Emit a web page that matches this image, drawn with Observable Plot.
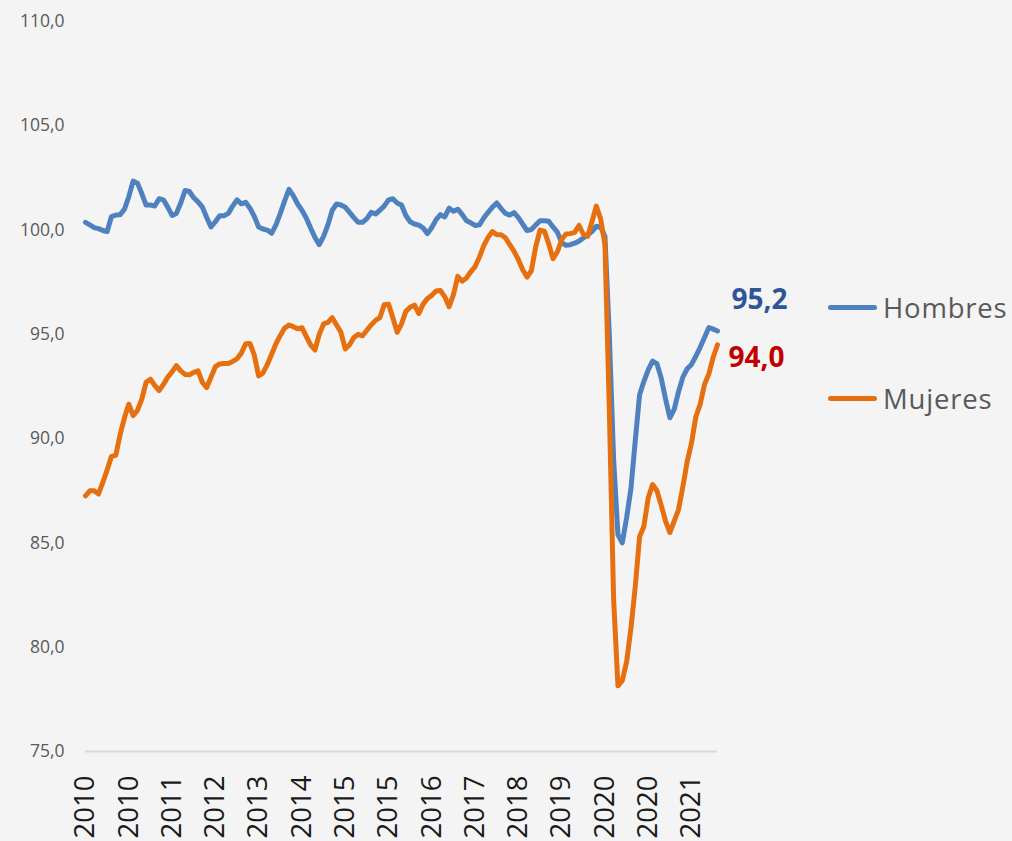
<!DOCTYPE html>
<html>
<head>
<meta charset="utf-8">
<script src="https://cdn.jsdelivr.net/npm/d3@7"></script>
<script src="https://cdn.jsdelivr.net/npm/@observablehq/plot@0.6"></script>
<style>
  html, body { margin: 0; padding: 0; background: #f4f4f4; }
  #wrap { position: relative; width: 1012px; height: 841px; overflow: hidden; background: #f4f4f4; font-family: "Open Sans", sans-serif; }
  #chart svg { display: block; }
  .leg { position: absolute; display: flex; align-items: center; color: #595959; font-size: 27.5px; letter-spacing: 0.8px; }
  .leg .sw { width: 49px; height: 5px; border-radius: 3px; margin-right: 6px; }
</style>
</head>
<body>
<div id="wrap">
  <div id="chart"></div>
</div>
<script>
// Monthly series, Jan 2010 – Mar 2022 (index 0 = Jan 2010)
const hombres = [
  100.37,100.25,100.12,100.07,99.98,99.93,100.65,100.72,100.74,101.0,
  101.6,102.35,102.25,101.75,101.2,101.2,101.15,101.5,101.45,101.1,
  100.7,100.8,101.3,101.9,101.85,101.55,101.35,101.1,100.6,100.15,
  100.4,100.69,100.69,100.8,101.15,101.45,101.26,101.33,101.05,100.65,
  100.15,100.05,100.0,99.85,100.25,100.8,101.4,101.95,101.65,101.25,
  100.95,100.58,100.1,99.65,99.3,99.7,100.25,100.95,101.25,101.2,
  101.1,100.85,100.6,100.37,100.37,100.55,100.85,100.77,100.95,101.15,
  101.45,101.5,101.3,101.2,100.7,100.4,100.29,100.24,100.1,99.83,
  100.12,100.5,100.74,100.63,101.05,100.9,101.0,100.75,100.45,100.35,
  100.22,100.25,100.58,100.85,101.1,101.3,101.03,100.8,100.72,100.84,
  100.6,100.28,99.98,100.03,100.24,100.45,100.45,100.42,100.15,99.9,
  99.4,99.27,99.3,99.37,99.47,99.62,99.77,99.93,100.18,100.15,
  99.7,95.0,89.0,85.4,85.0,86.2,87.6,89.9,92.1,92.75,
  93.3,93.72,93.6,92.9,91.9,91.0,91.4,92.25,92.95,93.35,
  93.56,93.95,94.38,94.85,95.33,95.25,95.16
];
const mujeres = [
  87.26,87.5,87.5,87.35,87.9,88.5,89.15,89.2,90.2,91.0,
  91.65,91.1,91.35,91.9,92.7,92.85,92.55,92.3,92.6,92.95,
  93.2,93.5,93.25,93.08,93.06,93.18,93.25,92.7,92.45,92.95,
  93.45,93.58,93.6,93.6,93.7,93.83,94.1,94.55,94.56,94.0,
  93.0,93.15,93.55,94.05,94.55,94.95,95.3,95.45,95.37,95.27,
  95.32,94.9,94.5,94.25,95.0,95.5,95.57,95.8,95.45,95.1,
  94.3,94.5,94.85,95.0,94.93,95.2,95.45,95.67,95.8,96.42,
  96.45,95.8,95.1,95.5,96.1,96.3,96.4,96.0,96.45,96.72,
  96.87,97.08,97.1,96.8,96.33,96.9,97.78,97.55,97.7,98.0,
  98.25,98.7,99.25,99.65,99.93,99.78,99.78,99.63,99.3,98.98,
  98.58,98.1,97.75,98.05,99.2,100.0,99.95,99.35,98.63,98.95,
  99.55,99.81,99.83,99.89,100.22,99.8,99.7,100.4,101.15,100.55,
  99.3,91.5,82.3,78.15,78.4,79.3,80.9,82.9,85.3,85.8,
  87.17,87.8,87.5,86.8,86.05,85.5,86.05,86.6,87.7,88.9,
  89.8,91.05,91.65,92.6,93.1,93.9,94.5
];
const seriesNames = ["Hombres", "Mujeres"];
const seriesColors = ["#4E81BD", "#E6700F"];
const endLabelValues = [95.2, 94.0];
const endLabelColors = ["#2F5597", "#C00000"];
const xTickIndex = [0,10,20,30,40,50,60,70,80,90,100,110,120,130,140];
const xTickLabels = ["2010","2010","2011","2012","2013","2014","2015","2015","2016","2017","2018","2019","2020","2020","2021"];
const yTicks = [75,80,85,90,95,100,105,110];

const fmt = v => v.toFixed(1).replace(".", ",");
const rows = [];
hombres.forEach((v, i) => rows.push({i, v, s: seriesNames[0]}));
mujeres.forEach((v, i) => rows.push({i, v, s: seriesNames[1]}));
const last = hombres.length - 1;

const chart = Plot.plot({
  width: 1012,
  height: 841,
  marginLeft: 85,
  marginRight: 295,
  marginTop: 21,
  marginBottom: 90,
  style: {background: "transparent", fontFamily: "'Open Sans', sans-serif", overflow: "visible"},
  x: {domain: [0, last]},
  y: {domain: [75, 110]},
  color: {domain: seriesNames, range: seriesColors},
  marks: [
    Plot.ruleY([75], {stroke: "#d9d9d9", strokeWidth: 2}),
    Plot.axisY({ticks: yTicks, tickSize: 0, tickPadding: 21, fontSize: 17.5, fill: "#595959", tickFormat: fmt, label: null, style: {letterSpacing: "0.8px"}}),
    Plot.axisX({ticks: xTickIndex, tickSize: 0, tickPadding: 24, tickRotate: -90, fontSize: 27.5, fill: "#1a1a1a", tickFormat: d => xTickLabels[xTickIndex.indexOf(d)], label: null, style: {letterSpacing: "2px"}}),
    Plot.line(rows, {x: "i", y: "v", z: "s", stroke: "s", strokeWidth: 5, strokeLinejoin: "round", strokeLinecap: "round"}),
    Plot.text([0], {x: () => last, y: () => hombres[last], text: () => fmt(endLabelValues[0]), dx: 14, dy: -31, textAnchor: "start", fontWeight: "bold", fontSize: 28, fill: endLabelColors[0]}),
    Plot.text([0], {x: () => last, y: () => mujeres[last], text: () => fmt(endLabelValues[1]), dx: 11, dy: 13, textAnchor: "start", fontWeight: "bold", fontSize: 28, fill: endLabelColors[1]})
  ]
});
document.getElementById("chart").appendChild(chart);

// legend
const wrap = document.getElementById("wrap");
const legendY = [307.7, 398];
seriesNames.forEach((name, k) => {
  const d = document.createElement("div");
  d.className = "leg";
  d.style.left = "828px";
  d.style.top = (legendY[k] - 20) + "px";
  d.style.height = "40px";
  d.innerHTML = `<span class="sw" style="background:${seriesColors[k]}"></span><span>${name}</span>`;
  wrap.appendChild(d);
});
</script>
</body>
</html>
